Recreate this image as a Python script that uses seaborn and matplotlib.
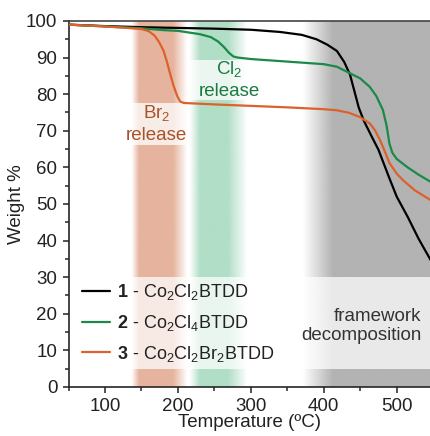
import numpy as np
import pandas as pd
import seaborn as sns
import matplotlib.pyplot as plt
from matplotlib.ticker import MultipleLocator

# TGA traces (temperature in C, weight %)
t1 = [50, 100, 150, 200, 250, 300, 340, 370, 390, 405, 418, 428, 436, 442, 448,
      455, 465, 475, 490, 500, 515, 530, 547]
w1 = [99.0, 98.6, 98.3, 98.1, 97.9, 97.6, 97.0, 96.2, 95.0, 93.5, 91.8, 88.8, 85.3,
      80.8, 76.3, 72.7, 68.7, 64.8, 57.0, 52.0, 46.5, 40.5, 34.5]

t2 = [50, 100, 150, 180, 200, 230, 245, 255, 263, 270, 276, 282, 300, 350, 400, 418,
      435, 450, 463, 472, 481, 486, 490, 494, 500, 515, 530, 547]
w2 = [99.0, 98.5, 98.0, 97.5, 97.3, 96.4, 95.6, 94.4, 92.9, 91.3, 90.3, 90.0, 89.6,
      88.9, 88.2, 87.5, 85.8, 84.3, 82.0, 79.5, 75.7, 71.5, 66.5, 64.0, 62.3, 60.0,
      58.0, 56.0]

t3 = [50, 100, 130, 150, 160, 168, 174, 180, 185, 189, 194, 199, 203, 208, 250, 300,
      350, 400, 418, 435, 450, 463, 470, 477, 484, 490, 500, 508, 525, 547]
w3 = [99.0, 98.5, 98.1, 97.8, 97.2, 96.0, 94.3, 92.0, 88.8, 85.8, 82.3, 79.5, 78.0,
      77.6, 77.2, 76.8, 76.4, 75.9, 75.6, 74.9, 73.7, 72.0, 70.2, 67.5, 64.2, 61.2,
      58.3, 56.6, 53.7, 51.0]

labels = [r"$\mathbf{1}$ - Co$_2$Cl$_2$BTDD",
          r"$\mathbf{2}$ - Co$_2$Cl$_4$BTDD",
          r"$\mathbf{3}$ - Co$_2$Cl$_2$Br$_2$BTDD"]
colors = ["#000000", "#1b8a48", "#dc612a"]

# shaded regions: fade-in start, solid start, solid end, fade-out end
br_band = [137, 147, 193, 212]
cl_band = [216, 230, 268, 294]
decomp_band = [371, 412]

df = pd.concat([
    pd.DataFrame({"T": t1, "W": w1, "sample": labels[0]}),
    pd.DataFrame({"T": t2, "W": w2, "sample": labels[1]}),
    pd.DataFrame({"T": t3, "W": w3, "sample": labels[2]}),
])

sns.set_style("ticks")
plt.rcParams["font.family"] = ["Liberation Sans", "DejaVu Sans"]
plt.rcParams["mathtext.fontset"] = "custom"
plt.rcParams["mathtext.rm"] = "Liberation Sans"
plt.rcParams["mathtext.it"] = "Liberation Sans:italic"
plt.rcParams["mathtext.bf"] = "Liberation Sans:bold"

fig = plt.figure(figsize=(4.31, 4.36), dpi=100)
ax = fig.add_axes([0.159, 0.1124, 0.841, 0.8395])


def band(edges, color, right=560):
    if len(edges) == 2:
        edges = edges + [right, right + 1]
    xs = np.linspace(edges[0] - 1, edges[3] + 1, 500)
    alpha = np.interp(xs, edges, [0, 1, 1, 0])
    rgba = np.zeros((1, len(xs), 4))
    rgba[..., :3] = plt.matplotlib.colors.to_rgb(color)
    rgba[..., 3] = alpha
    ax.imshow(rgba, extent=(xs[0], xs[-1], 0, 100), aspect="auto",
              interpolation="bilinear", zorder=0)


band(br_band, "#e6b49e")
band(cl_band, "#b1dec6")
band(decomp_band, "#b3b3b3")

# white boxes behind labels and legend
ax.axhspan(5, 30, color="white", alpha=0.72, lw=0, zorder=1)
ax.fill_between([131, 212], 66, 77.6, color="white", alpha=0.75, lw=0, zorder=1)
ax.fill_between([216, 296], 78.4, 89.3, color="white", alpha=0.75, lw=0, zorder=1)

sns.lineplot(data=df, x="T", y="W", hue="sample", palette=colors, lw=1.6,
             sort=False, ax=ax, zorder=3)

ax.text(171, 71.9, "Br$_2$\nrelease", color="#a9522a", fontsize=13.5,
        ha="center", va="center", linespacing=1.3, zorder=4)
ax.text(270, 84, "Cl$_2$\nrelease", color="#1b7a40", fontsize=13.5,
        ha="center", va="center", linespacing=1.3, zorder=4)
ax.text(534, 16.7, "framework\ndecomposition", color="#333333", fontsize=13.5,
        ha="right", va="center", multialignment="right", zorder=4)

leg = ax.legend(loc="center left", bbox_to_anchor=(0.037, 0.175), frameon=False,
                fontsize=13, handlelength=1.55, handletextpad=0.4,
                labelspacing=0.6, borderpad=0, borderaxespad=0)
for txt in leg.get_texts():
    txt.set_color("#222222")

ax.set_xlim(50, 547)
ax.set_ylim(0, 100)
ax.xaxis.set_major_locator(MultipleLocator(100))
ax.xaxis.set_minor_locator(MultipleLocator(50))
ax.yaxis.set_major_locator(MultipleLocator(10))
ax.yaxis.set_minor_locator(MultipleLocator(5))
ax.tick_params(which="major", direction="out", length=4.5, width=1.1, labelsize=13.5,
               colors="#222222")
ax.tick_params(which="minor", direction="out", length=3, width=1.1)
ax.spines["right"].set_visible(False)
for s in ["left", "bottom"]:
    ax.spines[s].set_linewidth(1.2)
ax.spines["top"].set_linewidth(1.2)
ax.spines["top"].set_color("#444444")

ax.set_xlabel("Temperature (ºC)", fontsize=13.5, labelpad=-1, color="#222222")
ax.set_ylabel("Weight %", fontsize=13.5, labelpad=1, color="#222222")

fig.savefig("out.png", dpi=100)
